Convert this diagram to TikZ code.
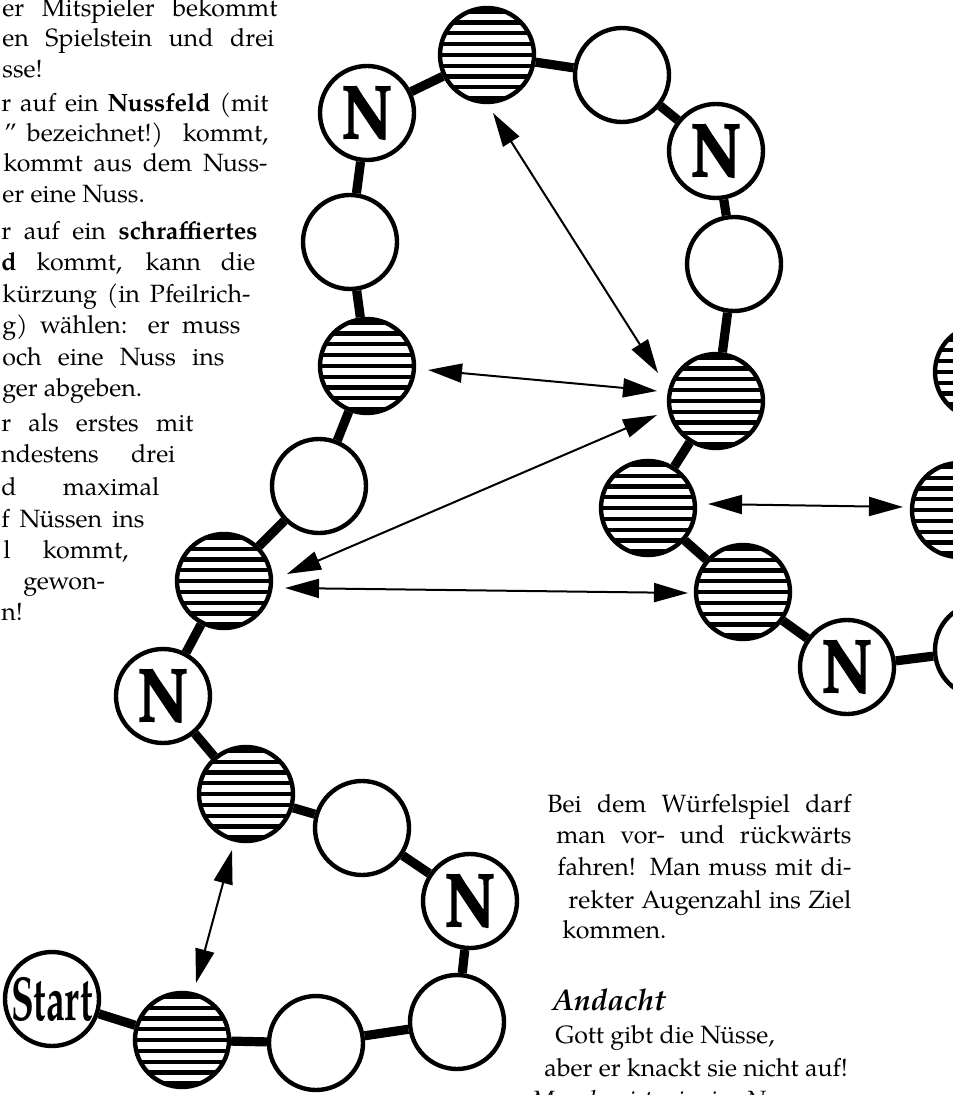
\documentclass[tikz,border=0pt]{standalone}
\usepackage{fontspec}
\usepackage{graphicx}
\setmainfont{texgyrepagella}[Extension=.otf, UprightFont=*-regular, BoldFont=*-bold, ItalicFont=*-italic, BoldItalicFont=*-bolditalic]
\newfontfamily\heavyfam{texgyrepagella}[Extension=.otf, UprightFont=*-bold, FakeBold=2.5]
\newfontfamily\semifam{texgyrepagella}[Extension=.otf, UprightFont=*-bold]
\usetikzlibrary{arrows.meta}
\newdimen\pxu \pxu=0.5pt
\newcommand\bodyfont{\fontsize{12.5pt}{15pt}\selectfont}
\newcommand\Nlab{\scalebox{0.8}[1]{\heavyfam\fontsize{37.5pt}{37.5pt}\selectfont N}}
\newcommand\Slab{\scalebox{0.6}[1]{\semifam\fontsize{31pt}{31pt}\selectfont Start}}
\newcommand\jline[5]{\node[txt] (#1) at (#2,#3) {\makebox[#4\pxu][s]{#5}};}
\newcommand\pline[4]{\node[txt] (#1) at (#2,#3) {#4};}
\begin{document}
\begin{tikzpicture}[x=0.5pt,y=-0.5pt,
  fld/.style={circle, draw, line width=2.2pt, fill=white, minimum size=47pt, inner sep=0pt},
  hat/.style={fld, path picture={\foreach \k in {-4,...,4}{\draw[line width=2.1pt] ([yshift=\k*5.4pt]path picture bounding box.west) -- ([yshift=\k*5.4pt]path picture bounding box.east);}}},
  conn/.style={line width=4.6pt},
  dbl/.style={line width=1pt, {Triangle[length=17pt,width=9.5pt]}-{Triangle[length=17pt,width=9.5pt]}},
  txt/.style={anchor=base west, inner sep=0pt, font=\bodyfont}
]
\useasboundingbox (0,0) rectangle (952,1095);

% fields
\node[fld] (start) at (52,999) {\Slab};
\node[hat] (h2) at (182,1040) {};
\node[fld] (w3) at (316,1043) {};
\node[fld] (w4) at (457,1022) {};
\node[fld] (n5) at (470,901) {\Nlab};
\node[fld] (w6) at (362,828) {};
\node[hat] (h7) at (246,794) {};
\node[fld] (n8) at (163,696) {\Nlab};
\node[hat] (h9) at (224,581) {};
\node[fld] (w10) at (319,486) {};
\node[hat] (h11) at (367,366) {};
\node[fld] (w12) at (350,242) {};
\node[fld] (n13) at (367,113) {\Nlab};
\node[hat] (h14) at (487,55) {};
\node[fld] (w15) at (622,75) {};
\node[fld] (n16) at (716,151) {\Nlab};
\node[fld] (w17) at (734,264) {};
\node[hat] (h18) at (716,401) {};
\node[hat] (h19) at (648,508) {};
\node[hat] (h20) at (743,592) {};
\node[fld] (n21) at (847,667) {\Nlab};
\node[fld] (w22) at (982,650) {};
\node[hat] (h23) at (959,510) {};
\node[hat] (h24) at (982,372) {};

% path connectors
\foreach \a/\b in {start/h2, h2/w3, w3/w4, w4/n5, n5/w6, w6/h7, h7/n8, n8/h9, h9/w10, w10/h11, h11/w12, w12/n13, n13/h14, h14/w15, w15/n16, n16/w17, w17/h18, h18/h19, h19/h20, h20/n21, n21/w22}
  \draw[conn] (\a) -- (\b);

% shortcut arrows
\coordinate (a1s) at (493,113);  \coordinate (a1e) at (658,373);
\coordinate (a2s) at (428,370);  \coordinate (a2e) at (657,391);
\coordinate (a3s) at (287,574);  \coordinate (a3e) at (657,415);
\coordinate (a4s) at (285,588);  \coordinate (a4e) at (688,593);
\coordinate (a5s) at (708,504);  \coordinate (a5e) at (903,507);
\coordinate (a6s) at (196,983);  \coordinate (a6e) at (232,850);
\draw[dbl] (a1s) -- (a1e);
\draw[dbl] (a2s) -- (a2e);
\draw[dbl] (a3s) -- (a3e);
\draw[dbl] (a4s) -- (a4e);
\draw[dbl] (a5s) -- (a5e);
\draw[dbl] (a6s) -- (a6e);

% rules text (as far as the picture shows it)
\jline{t1}{2}{17}{275}{er Mitspieler bekommt}
\jline{t2}{2}{47}{272}{en Spielstein und drei}
\pline{t3}{2}{78}{sse!}
\jline{t4}{1}{112}{267}{r auf ein \textbf{Nussfeld} (mit}
\jline{t5}{4}{142}{264}{” bezeichnet!) kommt,}
\jline{t6}{3}{172}{264}{kommt aus dem Nuss-}
\pline{t7}{2}{203}{er eine Nuss.}
\jline{t8}{1}{240}{256}{r auf ein \textbf{schraffiertes}}
\jline{t9}{1}{271}{254}{\textbf{d} kommt, kann die}
\jline{t10}{2}{303}{248}{kürzung (in Pfeilrich-}
\jline{t11}{2}{334}{238}{g) wählen: er muss}
\jline{t12}{2}{366}{222}{och eine Nuss ins}
\pline{t13}{2}{397}{ger abgeben.}
\jline{t14}{1}{432}{192}{r als erstes mit}
\jline{t15}{1}{463}{174}{ndestens drei}
\jline{t16}{1}{495}{158}{d maximal}
\jline{t17}{1}{527}{143}{f Nüssen ins}
\jline{t18}{3}{558}{125}{l kommt,}
\pline{t19}{23}{589}{gewon-}
\pline{t20}{1}{620}{n!}

% bottom right text
\jline{b1}{547}{812}{304}{Bei dem Würfelspiel darf}
\jline{b2}{556}{843}{295}{man vor- und rückwärts}
\jline{b3}{557}{875}{294}{fahren! Man muss mit di-}
\jline{b4}{568}{908}{283}{rekter Augenzahl ins Ziel}
\pline{b5}{562}{938}{kommen.}
\node[txt, font=\fontsize{15pt}{18pt}\selectfont] (and) at (552,1010) {\textbf{\textit{Andacht}}};
\pline{g1}{555}{1043}{Gott gibt die Nüsse,}
\pline{g2}{544}{1076}{aber er knackt sie nicht auf!}
\pline{g3}{531}{1108}{\textit{Mancher ist wie eine Nuss}}
\end{tikzpicture}
\end{document}
